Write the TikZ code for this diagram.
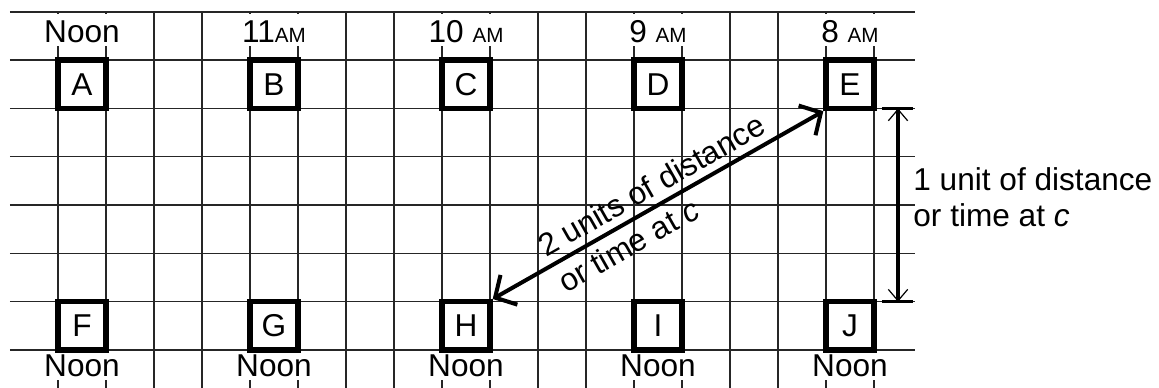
\documentclass[tikz,border=0pt]{standalone}
\usepackage{fontspec}
\setmainfont{Liberation Sans}
\usetikzlibrary{arrows.meta,positioning}
\newcommand{\smallam}{{\fontsize{10.3}{12}\selectfont AM}}

\begin{document}
\begin{tikzpicture}[x=24pt,y=24.15pt,font=\fontsize{15.8}{18}\selectfont,
 gridline/.style={line width=0.7pt,draw=black!85},
 clockbox/.style={draw,line width=2.7pt,minimum width=24pt,minimum height=24.15pt,inner sep=0pt},
 timelab/.style={fill=white,anchor=base,inner xsep=1.5pt,inner ysep=0pt,text depth=1.5pt},
 lightpath/.style={line width=2pt,{Straight Barb[length=2.8mm,width=6mm]}-{Straight Barb[length=2.8mm,width=6mm]}},
 dimline/.style={line width=1.6pt,{Straight Barb[length=2mm,width=3.4mm,line width=0.6pt]}-{Straight Barb[length=2mm,width=3.4mm,line width=0.6pt]}},
 endbar/.style={line width=1.8pt},
 note/.style={align=left,inner sep=0pt},
 pathup/.style={sloped,anchor=south west,inner xsep=0pt,inner ysep=3.5pt},
 pathdown/.style={sloped,anchor=north west,inner xsep=0pt,inner ysep=3.5pt,text height=11.3pt}]
\useasboundingbox (-1.2083,-0.7867) rectangle (22.9375,7.2464);
% grid
\foreach \r in {0,...,7}
  \draw[gridline] (-1,\r) -- (17.854,\r);
\foreach \c in {0,...,17}
  \draw[gridline] (\c,-0.7867) -- (\c,7);
% clock readings
\foreach \c/\t/\k in {0/Noon/A,4/11\smallam/B,8/10 \smallam/C,12/9 \smallam/D,16/8 \smallam/E}
  \node[timelab,text height=14.5pt] (time\k) at (\c+0.5,6.356) {\t};
\foreach \c/\k in {0/F,4/G,8/H,12/I,16/J}
  \node[timelab,text height=12.5pt] (time\k) at (\c+0.5,-0.559) {Noon};
% clocks
\foreach \c/\n/\m in {0/A/F,4/B/G,8/C/H,12/D/I,16/E/J}{
  \node[clockbox] (\n) at (\c+0.5,5.5) {\n};
  \node[clockbox] (\m) at (\c+0.5,0.5) {\m};
}
% light path H to E
\draw[lightpath] (H.north east) -- (E.south west)
  node[pathup,pos=0.17] (pathtop) {2 units of distance}
  node[pathdown,pos=0.17] (pathbot) {or time at \textit{c}};
% one unit
\coordinate (dimtop) at (17.5,5);
\coordinate (dimbot) at (17.5,1);
\coordinate (dimmid) at (17.5,3);
\draw[endbar] (17.17,5) -- (17.81,5);
\draw[endbar] (17.17,1) -- (17.81,1);
\draw[dimline] (dimtop) -- (dimbot);
\node[note,right=7.5pt of dimmid,yshift=4pt] (unitnote) {1 unit of distance\\or time at \textit{c}};
\end{tikzpicture}
\end{document}
